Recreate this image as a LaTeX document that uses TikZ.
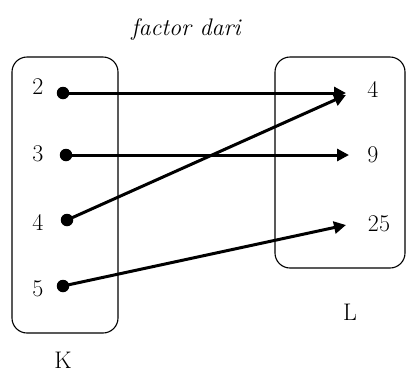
\documentclass[tikz,border=0pt]{standalone}
\usepackage{fontspec}
\usetikzlibrary{arrows.meta}
\tikzset{
  setbox/.style={draw, line width=1.1pt, rounded corners=15pt},
  dotnode/.style={circle, fill=black, minimum size=12.5pt, inner sep=0pt},
  lbl/.style={font=\fontsize{24}{28}\selectfont, inner sep=0pt},
  ttl/.style={font=\fontsize{24}{28}\selectfont\itshape, inner sep=0pt},
  maparrow/.style={line width=3pt, -{Triangle[length=12pt,width=12pt]}},
}
\begin{document}
\begin{tikzpicture}[x=1pt,y=-1pt]
\useasboundingbox (0,0) rectangle (407,376);
% boxes
\draw[setbox] (12,57) rectangle (118,333);
\draw[setbox] (275,57) rectangle (405,268);
% title
\node[ttl] (title) at (186,29) {factor dari};
% left labels
\node[lbl] (k2) at (38,87) {2};
\node[lbl] (k3) at (38,154) {3};
\node[lbl] (k4) at (38,222) {4};
\node[lbl] (k5) at (38,289) {5};
% dots
\node[dotnode] (d2) at (63,93) {};
\node[dotnode] (d3) at (66,155) {};
\node[dotnode] (d4) at (67,220) {};
\node[dotnode] (d5) at (63,286) {};
% right labels
\node[lbl] (l4) at (373,89) {4};
\node[lbl] (l9) at (373,155) {9};
\node[lbl] (l25) at (379,224) {25};
% set names
\node[lbl] (L) at (350,312) {L};
\node[lbl] (K) at (63,360) {K};
% arrow targets
\coordinate (t2) at (346,93);
\coordinate (t4) at (346,95);
\coordinate (t3) at (349,155);
\coordinate (t5) at (346,225);
% arrows
\draw[maparrow] (d2.center) -- (t2);
\draw[maparrow] (d4.center) -- (t4);
\draw[maparrow] (d3.center) -- (t3);
\draw[maparrow] (d5.center) -- (t5);
\end{tikzpicture}
\end{document}
